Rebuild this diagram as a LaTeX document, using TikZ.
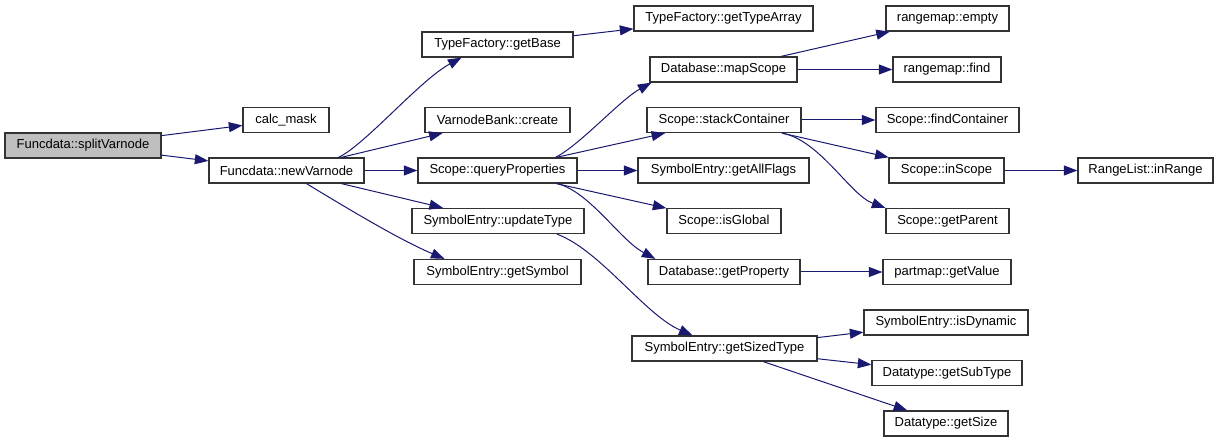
\documentclass[tikz,border=0pt]{standalone}
\usepackage{fontspec}
\setmainfont{Liberation Sans}
\usepackage{xcolor}
\usetikzlibrary{arrows.meta}
\definecolor{callblue}{RGB}{25,25,112}
\definecolor{rootgray}{RGB}{191,191,191}

\begin{document}
\begin{tikzpicture}[x=1pt,y=1pt,yscale=-1,xscale=1,
  fn/.style={draw=black!80,line width=1.3pt,fill=white,minimum height=25pt,inner sep=0pt,font=\fontsize{13}{15}\selectfont},
  root/.style={fn,fill=rootgray},
  call/.style={draw=callblue,line width=1pt,-{Triangle[length=13.5pt,width=10pt]},fill=none}]
\useasboundingbox (0,0) rectangle (1219,443);

% column 1
\node [root,minimum width=156pt] (split) at (83,145.5) {Funcdata::splitVarnode};
% column 2
\node [fn,minimum width=86pt] (calc) at (286,120) {calc\_mask};
\node [fn,minimum width=155pt] (newvn) at (286.5,170.5) {Funcdata::newVarnode};
% column 3
\node [fn,minimum width=151pt] (getbase) at (497.5,44.5) {TypeFactory::getBase};
\node [fn,minimum width=145pt] (create) at (497.5,120) {VarnodeBank::create};
\node [fn,minimum width=159pt] (queryprop) at (497.5,170.5) {Scope::queryProperties};
\node [fn,minimum width=172pt] (updtype) at (498,221) {SymbolEntry::updateType};
\node [fn,minimum width=167pt] (getsym) at (497.5,272) {SymbolEntry::getSymbol};
% column 4
\node [fn,minimum width=179pt] (typearray) at (723.5,18.5) {TypeFactory::getTypeArray};
\node [fn,minimum width=147pt] (mapscope) at (723.5,69.5) {Database::mapScope};
\node [fn,minimum width=154pt] (stackcont) at (724,120) {Scope::stackContainer};
\node [fn,minimum width=171pt] (allflags) at (723.5,170.5) {SymbolEntry::getAllFlags};
\node [fn,minimum width=114pt] (isglobal) at (724,221) {Scope::isGlobal};
\node [fn,minimum width=152pt] (getprop) at (724,272) {Database::getProperty};
\node [fn,minimum width=185pt] (sizedtype) at (724.5,348.5) {SymbolEntry::getSizedType};
% column 5
\node [fn,minimum width=123pt] (rmempty) at (947.5,18.5) {rangemap::empty};
\node [fn,minimum width=108pt] (rmfind) at (947,69.5) {rangemap::find};
\node [fn,minimum width=143pt] (findcont) at (947.5,120) {Scope::findContainer};
\node [fn,minimum width=115pt] (inscope) at (946.5,170.5) {Scope::inScope};
\node [fn,minimum width=123pt] (getparent) at (947.5,221) {Scope::getParent};
\node [fn,minimum width=128pt] (getvalue) at (947,272) {partmap::getValue};
\node [fn,minimum width=164pt] (isdyn) at (946,322.5) {SymbolEntry::isDynamic};
\node [fn,minimum width=150pt] (subtype) at (947,373) {Datatype::getSubType};
\node [fn,minimum width=124pt] (getsize) at (946,423.5) {Datatype::getSize};
% column 6
\node [fn,minimum width=135pt] (inrange) at (1145.5,170.5) {RangeList::inRange};

% calls
\draw [call] (split) -- (calc);
\draw [call] (split) -- (newvn);
\draw [call] ([xshift=52pt]newvn.north) .. controls (365,145) and (420,80) .. ([xshift=-36pt]getbase.south);
\draw [call] (newvn) -- (create);
\draw [call] (newvn) -- (queryprop);
\draw [call] (newvn) -- (updtype);
\draw [call] ([xshift=20pt]newvn.south) .. controls (350,210) and (400,240) .. ([xshift=-53pt]getsym.north);
\draw [call] (getbase) -- (typearray);
\draw [call] ([xshift=58pt]queryprop.north) .. controls (580,145) and (620,100) .. ([xshift=2pt]mapscope.south west);
\draw [call] (queryprop) -- (stackcont);
\draw [call] (queryprop) -- (allflags);
\draw [call] (queryprop) -- (isglobal);
\draw [call] ([xshift=60pt]queryprop.south) .. controls (590,192) and (620,240) .. ([xshift=8pt]getprop.north west);
\draw [call] ([xshift=59pt]updtype.south) .. controls (600,250) and (645,315) .. ([xshift=-32pt]sizedtype.north);
\draw [call] (mapscope) -- (rmempty);
\draw [call] (mapscope) -- (rmfind);
\draw [call] (stackcont) -- (findcont);
\draw [call] (stackcont) -- (inscope);
\draw [call] ([xshift=58pt]stackcont.south) .. controls (820,140) and (850,195) .. (getparent.north west);
\draw [call] (inscope) -- (inrange);
\draw [call] (getprop) -- (getvalue);
\draw [call] (sizedtype) -- (isdyn);
\draw [call] (sizedtype) -- (subtype);
\draw [call] (sizedtype) -- (getsize);
\end{tikzpicture}
\end{document}
